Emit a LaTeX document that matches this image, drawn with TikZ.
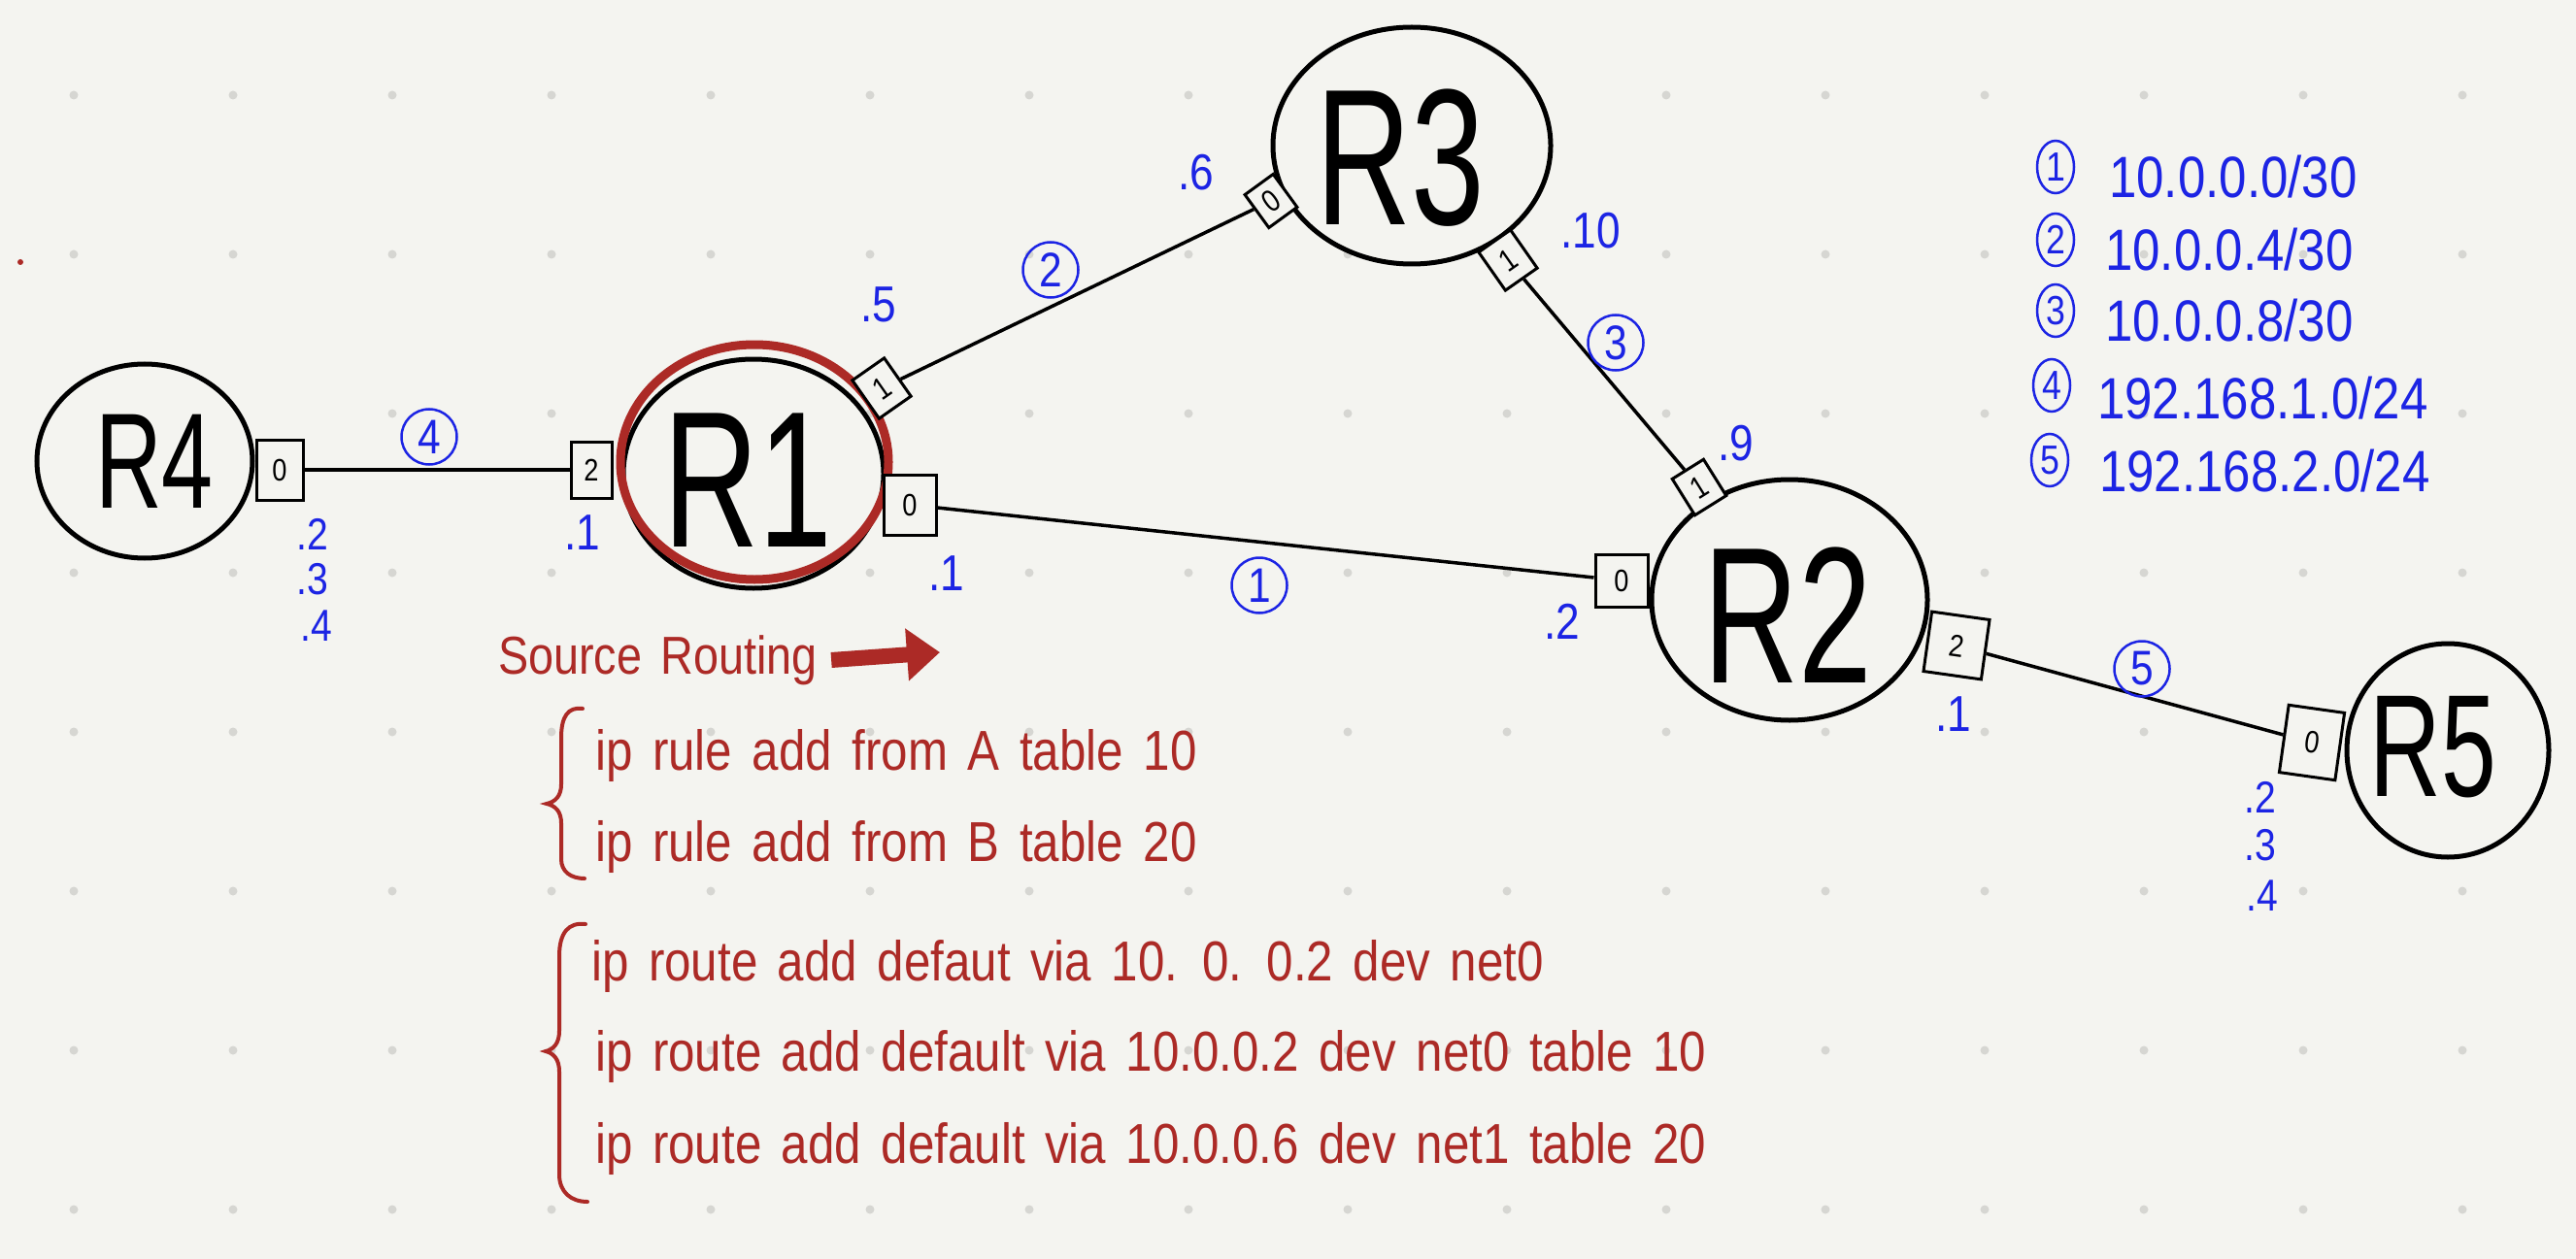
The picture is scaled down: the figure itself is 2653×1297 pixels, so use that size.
\documentclass[tikz,border=0pt]{standalone}
\usepackage{fontspec}
\setmainfont{Liberation Sans}
\newfontfamily\handfont[FakeStretch=0.85,WordSpace=1.5]{Liberation Sans}
\newfontfamily\bigfont[FakeStretch=0.68]{Liberation Sans}
\usetikzlibrary{shapes.geometric,arrows.meta}
\definecolor{bg}{RGB}{244,244,240}
\definecolor{dotc}{RGB}{214,214,210}
\definecolor{penblue}{RGB}{28,36,228}
\definecolor{penred}{RGB}{172,42,38}
\newcommand{\myfs}[1]{\fontsize{#1}{#1}\selectfont}
\begin{document}
\begin{tikzpicture}[x=1pt,y=-1pt,
  router/.style={ellipse, draw=black, line width=5, fill=bg, inner sep=0},
  rname/.style={font=\bigfont\myfs{200}, inner sep=0},
  port/.style={rectangle, draw=black, line width=3, fill=bg, minimum width=46, minimum height=56, inner sep=0, font=\handfont\myfs{32}},
  link/.style={line width=3.5, draw=black},
  netlbl/.style={circle, draw=penblue, line width=2.5, minimum size=57, inner sep=0, text=penblue, font=\handfont\myfs{50}},
  addr/.style={text=penblue, font=\handfont\myfs{52}, inner sep=0},
  addrs/.style={text=penblue, font=\handfont\myfs{46}, inner sep=0},
  legnum/.style={ellipse, draw=penblue, line width=2.5, minimum width=38, minimum height=54, inner sep=0, text=penblue, font=\handfont\myfs{42}},
  legtxt/.style={text=penblue, font=\handfont\myfs{60}, inner sep=0, anchor=west},
  cmd/.style={text=penred, font=\handfont\myfs{58}, inner sep=0, anchor=west},
]
\useasboundingbox[fill=bg] (0,0) rectangle (2653,1297);
% dot grid
\foreach \i in {0,...,15}{
  \foreach \j in {0,...,7}{
    \fill[dotc] (76+164*\i, 98+164*\j) circle (4.5);
  }
}
\fill[penred] (21,270) circle (3);
% routers
\node[router, minimum width=222, minimum height=200] (R4) at (149,475) {};
\node[router, minimum width=268, minimum height=236] (R1) at (776,488) {};
\node[ellipse, draw=penred, line width=9, minimum width=276, minimum height=242, inner sep=0] (R1hl) at (777,476) {};
\node[router, minimum width=286, minimum height=244] (R3) at (1454,150) {};
\node[router, minimum width=284, minimum height=248] (R2) at (1843,618) {};
\node[router, minimum width=208, minimum height=220] (R5) at (2521,773) {};
\node[rname, font=\bigfont\myfs{140}] (R4t) at (159,475) {R4};
\node[rname] (R1t) at (770,495) {R1};
\node[rname] (R3t) at (1442,163) {R3};
\node[rname] (R2t) at (1841,634) {R2};
\node[rname, font=\bigfont\myfs{150}] (R5t) at (2506,770) {R5};
% ports
\node[port, minimum width=48, minimum height=62] (R4p0) at (288,484) {0};
\node[port, minimum width=42, minimum height=58] (R1p2) at (609,484) {2};
\node[port, minimum width=40, minimum height=48, rotate=35] (R1p1) at (908,400) {1};
\node[port, minimum width=54, minimum height=62] (R1p0) at (937,520) {0};
\node[port, minimum width=36, minimum height=42, rotate=36] (R3p0) at (1309,207) {0};
\node[port, minimum width=40, minimum height=48, rotate=35] (R3p1) at (1553,268) {1};
\node[port, minimum width=38, minimum height=44, rotate=32] (R2p1) at (1750,502) {1};
\node[port, minimum width=54, minimum height=54] (R2p0) at (1670,598) {0};
\node[port, minimum width=60, minimum height=62, rotate=-8] (R2p2) at (2015,665) {2};
\node[port, minimum width=58, minimum height=70, rotate=-8] (R5p0) at (2381,765) {0};
% links
\draw[link] (R4p0) -- (R1p2);
\draw[link] (R1p1) -- (R3p0);
\draw[link] (R3p1) -- (R2p1);
\draw[link] (R1p0) -- (R2p0);
\draw[link] (R2p2) -- (R5p0);
% network labels
\node[netlbl] (n1) at (1297,603) {1};
\node[netlbl] (n2) at (1082,278) {2};
\node[netlbl] (n3) at (1664,353) {3};
\node[netlbl] (n4) at (442,450) {4};
\node[netlbl] (n5) at (2206,689) {5};
% addresses
\node[addrs] (a42) at (322,550) {.2};
\node[addrs] (a43) at (322,597) {.3};
\node[addrs] (a44) at (326,645) {.4};
\node[addr] (a11) at (600,549) {.1};
\node[addr] (a15) at (905,314) {.5};
\node[addr] (a36) at (1232,178) {.6};
\node[addr] (a310) at (1638,238) {.10};
\node[addr] (a29) at (1788,457) {.9};
\node[addr] (a11b) at (975,591) {.1};
\node[addr] (a22) at (1609,640) {.2};
\node[addr] (a21) at (2012,736) {.1};
\node[addrs] (a52) at (2328,821) {.2};
\node[addrs] (a53) at (2328,871) {.3};
\node[addrs] (a54) at (2330,923) {.4};
% legend
\node[legnum] (l1) at (2117,172) {1};
\node[legnum] (l2) at (2117,247) {2};
\node[legnum] (l3) at (2117,320) {3};
\node[legnum] (l4) at (2113,397) {4};
\node[legnum] (l5) at (2111,474) {5};
\node[legtxt] (t1) at (2172,182) {10.0.0.0/30};
\node[legtxt] (t2) at (2168,257) {10.0.0.4/30};
\node[legtxt] (t3) at (2168,330) {10.0.0.8/30};
\node[legtxt] (t4) at (2160,410) {192.168.1.0/24};
\node[legtxt] (t5) at (2162,485) {192.168.2.0/24};
% source routing
\node[cmd, font=\handfont\myfs{55}] (src) at (513,680) {Source Routing};
\coordinate (srcend) at (968,672);
\draw[penred, line width=16, -{Triangle[length=34pt,width=52pt]}] ([xshift=14pt]src.east) -- (srcend);
\draw[penred, line width=4, line cap=round] (600,730) .. controls (585,728) and (578,738) .. (578,760) -- (578,808) .. controls (578,820) and (572,826) .. (563,828) .. controls (572,830) and (578,836) .. (578,848) -- (578,885) .. controls (578,898) and (588,905) .. (602,905);
\node[cmd] (rule1) at (613,778) {ip rule add from A table 10};
\node[cmd] (rule2) at (613,872) {ip rule add from B table 20};
\draw[penred, line width=4, line cap=round] (603,952) .. controls (586,950) and (576,960) .. (576,985) -- (576,1062) .. controls (576,1075) and (570,1081) .. (562,1083) .. controls (570,1085) and (576,1091) .. (576,1104) -- (576,1210) .. controls (576,1228) and (588,1238) .. (605,1238);
\node[cmd] (route1) at (609,995) {ip route add defaut via 10. 0. 0.2 dev net0};
\node[cmd] (route2) at (613,1088) {ip route add default via 10.0.0.2 dev net0 table 10};
\node[cmd] (route3) at (613,1183) {ip route add default via 10.0.0.6 dev net1 table 20};
\end{tikzpicture}
\end{document}
